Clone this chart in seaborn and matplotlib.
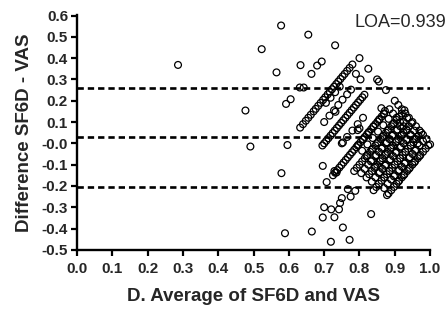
import matplotlib
matplotlib.use('Agg')
import numpy as np
import seaborn as sns
import matplotlib.pyplot as plt

# Bland-Altman points (average, difference)

# scattered points away from the main cloud
avg_sparse = [0.286, 0.477, 0.491, 0.523, 0.565, 0.578, 0.579, 0.589, 0.592, 0.605,
              0.596, 0.633, 0.631, 0.642, 0.655, 0.664, 0.665, 0.680, 0.693, 0.731,
              0.696, 0.707, 0.700, 0.696, 0.719, 0.720, 0.729, 0.742, 0.745, 0.750,
              0.753, 0.767, 0.775, 0.788, 0.772, 0.833, 0.878, 0.753, 0.729, 0.735]
diff_sparse = [0.368, 0.154, -0.015, 0.442, 0.333, 0.553, -0.140, -0.422, 0.185, 0.207,
               -0.008, 0.367, 0.262, 0.262, 0.510, 0.326, -0.414, 0.365, 0.384, 0.460,
               -0.106, -0.182, -0.300, -0.348, -0.462, -0.310, -0.347, -0.310, -0.280, -0.257,
               -0.395, -0.215, -0.250, -0.223, -0.453, -0.332, -0.243, 0.004, -0.130, -0.137]

# band with VAS around 0.6
avg_band_a = [0.632, 0.640, 0.648, 0.655, 0.662, 0.670, 0.676, 0.683, 0.690, 0.697,
              0.703, 0.710, 0.716, 0.722, 0.728, 0.734, 0.740, 0.746, 0.752, 0.758,
              0.765, 0.772, 0.780, 0.705, 0.718, 0.731, 0.744]
diff_band_a = [0.074, 0.090, 0.106, 0.120, 0.134, 0.150, 0.162, 0.176, 0.190, 0.204,
               0.216, 0.230, 0.242, 0.254, 0.266, 0.278, 0.290, 0.302, 0.314, 0.326,
               0.340, 0.354, 0.370, 0.190, 0.214, 0.240, 0.266]

# band with VAS around 0.65
avg_band_b = [0.700, 0.715, 0.728, 0.732, 0.740, 0.752, 0.765, 0.776, 0.790, 0.803]
diff_band_b = [0.100, 0.130, 0.155, 0.148, 0.180, 0.205, 0.230, 0.252, 0.326, 0.300]

# band with VAS around 0.7
avg_band_c = [0.695, 0.700, 0.706, 0.712, 0.718, 0.724, 0.730, 0.736, 0.742, 0.748,
              0.754, 0.760, 0.766, 0.772, 0.778, 0.784, 0.790, 0.796, 0.802, 0.808, 0.814]
diff_band_c = [-0.010, 0.000, 0.012, 0.024, 0.036, 0.048, 0.060, 0.072, 0.084, 0.096,
               0.108, 0.120, 0.132, 0.144, 0.156, 0.168, 0.180, 0.192, 0.204, 0.216, 0.228]

# band with VAS around 0.75
avg_band_d = [0.750, 0.765, 0.780, 0.795, 0.810, 0.795, 0.800]
diff_band_d = [0.000, 0.030, 0.060, 0.090, 0.120, 0.062, 0.070]

# dense band with VAS around 0.8
avg_band_e = [0.725, 0.731, 0.737, 0.743, 0.749, 0.755, 0.761, 0.767, 0.773, 0.779,
              0.785, 0.791, 0.797, 0.803, 0.809, 0.815, 0.821, 0.827, 0.833, 0.839,
              0.845, 0.851, 0.857, 0.863, 0.869]
diff_band_e = [-0.150, -0.138, -0.126, -0.114, -0.102, -0.090, -0.078, -0.066, -0.054, -0.042,
               -0.030, -0.018, -0.006, 0.006, 0.018, 0.030, 0.042, 0.054, 0.066, 0.078,
               0.090, 0.102, 0.114, 0.126, 0.138]

# main cloud: VAS 0.85 - 1.0
avg_cloud = [0.785, 0.7925, 0.800, 0.8075, 0.815, 0.8225, 0.830, 0.8375, 0.845, 0.8525,
             0.860, 0.8675, 0.875, 0.8825, 0.890, 0.8975, 0.905, 0.9125, 0.920, 0.9275,
             0.805, 0.815, 0.825, 0.835, 0.845, 0.855, 0.865, 0.875, 0.885, 0.895,
             0.905, 0.915, 0.925, 0.935,
             0.820, 0.8275, 0.835, 0.8425, 0.850, 0.8575, 0.865, 0.8725, 0.880, 0.8875,
             0.895, 0.9025, 0.910, 0.9175, 0.925, 0.9325, 0.940, 0.9475,
             0.835, 0.845, 0.855, 0.865, 0.875, 0.885, 0.895, 0.905, 0.915, 0.925,
             0.935, 0.945, 0.955,
             0.840, 0.8475, 0.855, 0.8625, 0.870, 0.8775, 0.885, 0.8925, 0.900, 0.9075,
             0.915, 0.9225, 0.930, 0.9375, 0.945, 0.9525, 0.960, 0.9675, 0.975,
             0.870, 0.880, 0.890, 0.900, 0.910, 0.920, 0.930, 0.940, 0.950, 0.960,
             0.970, 0.980,
             0.8825, 0.890, 0.8975, 0.905, 0.9125, 0.920, 0.9275, 0.935, 0.9425, 0.950,
             0.9575, 0.965, 0.9725, 0.980, 0.9875, 0.995]
diff_cloud = [-0.130, -0.115, -0.100, -0.085, -0.070, -0.055, -0.040, -0.025, -0.010, 0.005,
              0.020, 0.035, 0.050, 0.065, 0.080, 0.095, 0.110, 0.125, 0.140, 0.155,
              -0.140, -0.120, -0.100, -0.080, -0.060, -0.040, -0.020, 0.000, 0.020, 0.040,
              0.060, 0.080, 0.100, 0.120,
              -0.160, -0.145, -0.130, -0.115, -0.100, -0.085, -0.070, -0.055, -0.040, -0.025,
              -0.010, 0.005, 0.020, 0.035, 0.050, 0.065, 0.080, 0.095,
              -0.180, -0.160, -0.140, -0.120, -0.100, -0.080, -0.060, -0.040, -0.020, 0.000,
              0.020, 0.040, 0.060,
              -0.220, -0.205, -0.190, -0.175, -0.160, -0.145, -0.130, -0.115, -0.100, -0.085,
              -0.070, -0.055, -0.040, -0.025, -0.010, 0.005, 0.020, 0.035, 0.050,
              -0.210, -0.190, -0.170, -0.150, -0.130, -0.110, -0.090, -0.070, -0.050, -0.030,
              -0.010, 0.010,
              -0.235, -0.220, -0.205, -0.190, -0.175, -0.160, -0.145, -0.130, -0.115, -0.100,
              -0.085, -0.070, -0.055, -0.040, -0.025, -0.010]

# cross lines inside the cloud (fixed SF6D, varying VAS)
avg_cross = [0.870, 0.8825, 0.895, 0.9075, 0.920, 0.9325, 0.945, 0.9575, 0.970,
             0.840, 0.8525, 0.865, 0.8775, 0.890, 0.9025, 0.915, 0.9275, 0.940,
             0.810, 0.8225, 0.835, 0.8475, 0.860, 0.8725, 0.885, 0.8975, 0.910,
             0.855, 0.8675, 0.880, 0.8925, 0.905, 0.9175, 0.930, 0.9425, 0.955,
             0.825, 0.8375, 0.850, 0.8625, 0.875, 0.8875, 0.900, 0.9125, 0.925,
             0.795, 0.8075, 0.820, 0.8325, 0.845, 0.8575, 0.870]
diff_cross = [0.140, 0.115, 0.090, 0.065, 0.040, 0.015, -0.010, -0.035, -0.060,
              0.080, 0.055, 0.030, 0.005, -0.020, -0.045, -0.070, -0.095, -0.120,
              0.020, -0.005, -0.030, -0.055, -0.080, -0.105, -0.130, -0.155, -0.180,
              0.110, 0.085, 0.060, 0.035, 0.010, -0.015, -0.040, -0.065, -0.090,
              0.050, 0.025, 0.000, -0.025, -0.050, -0.075, -0.100, -0.125, -0.150,
              -0.010, -0.035, -0.060, -0.085, -0.110, -0.135, -0.160]

# SF6D = 1.0 and 0.97 edges of the cloud
avg_edge = [0.800, 0.825, 0.850, 0.855, 0.875, 0.900, 0.910, 0.920, 0.930, 0.940,
            0.950, 0.960, 0.970, 0.980, 0.990, 1.000,
            0.885, 0.895, 0.905, 0.915, 0.925, 0.935, 0.945, 0.955, 0.965,
            0.862, 0.872]
diff_edge = [0.400, 0.350, 0.300, 0.290, 0.250, 0.200, 0.180, 0.160, 0.140, 0.120,
             0.100, 0.080, 0.060, 0.040, 0.020, -0.005,
             0.160, 0.140, 0.120, 0.100, 0.080, 0.060, 0.040, 0.020, 0.000,
             0.165, 0.152]

mean_diff = 0.032
upper_loa = 0.262
lower_loa = -0.204

avg = (avg_sparse + avg_band_a + avg_band_b + avg_band_c + avg_band_d + avg_band_e
       + avg_cloud + avg_cross + avg_edge)
diff = (diff_sparse + diff_band_a + diff_band_b + diff_band_c + diff_band_d + diff_band_e
        + diff_cloud + diff_cross + diff_edge)

sns.set_style('ticks')
plt.rcParams['font.family'] = ['Liberation Sans', 'DejaVu Sans']

fig = plt.figure(figsize=(4.48, 3.10), dpi=100)
ax = fig.add_axes([0.172, 0.194, 0.788, 0.756])

sns.scatterplot(x=avg, y=diff, ax=ax, marker='o', s=24, facecolor='none',
                edgecolor='black', linewidth=0.9, clip_on=False, zorder=3)

for y in [upper_loa, mean_diff, lower_loa]:
    ax.axhline(y, xmin=0, xmax=1, color='black', lw=1.9, ls=(0, (2.4, 1.5)), zorder=2)

ax.set_xlim(0, 1.0)
ax.set_ylim(-0.5, 0.6)
ax.set_xticks(np.arange(0, 1.01, 0.1))
ax.set_xticklabels(['0.0', '0.1', '0.2', '0.3', '0.4', '0.5', '0.6', '0.7', '0.8', '0.9', '1.0'])
ax.set_yticks(np.arange(-0.5, 0.61, 0.1))
ax.set_yticklabels(['-0.5', '-0.4', '-0.3', '-0.2', '-0.1', '-0.0', '0.1', '0.2', '0.3', '0.4', '0.5', '0.6'])
ax.tick_params(axis='both', length=4, width=1.6, pad=2.5, labelsize=11, color='black')
ax.tick_params(axis='x', pad=4.5)
for lab in ax.get_xticklabels() + ax.get_yticklabels():
    lab.set_fontweight('bold')

sns.despine(ax=ax)
for side in ['left', 'bottom']:
    ax.spines[side].set_linewidth(1.7)
    ax.spines[side].set_color('black')

ax.set_xlabel('D. Average of SF6D and VAS', fontsize=13.5, fontweight='bold', labelpad=9)
ax.set_ylabel('Difference SF6D - VAS', fontsize=13.5, fontweight='bold', labelpad=6)

fig.text(0.997, 0.927, 'LOA=0.939', ha='right', va='center', fontsize=13)

fig.savefig('out.png', dpi=100)
